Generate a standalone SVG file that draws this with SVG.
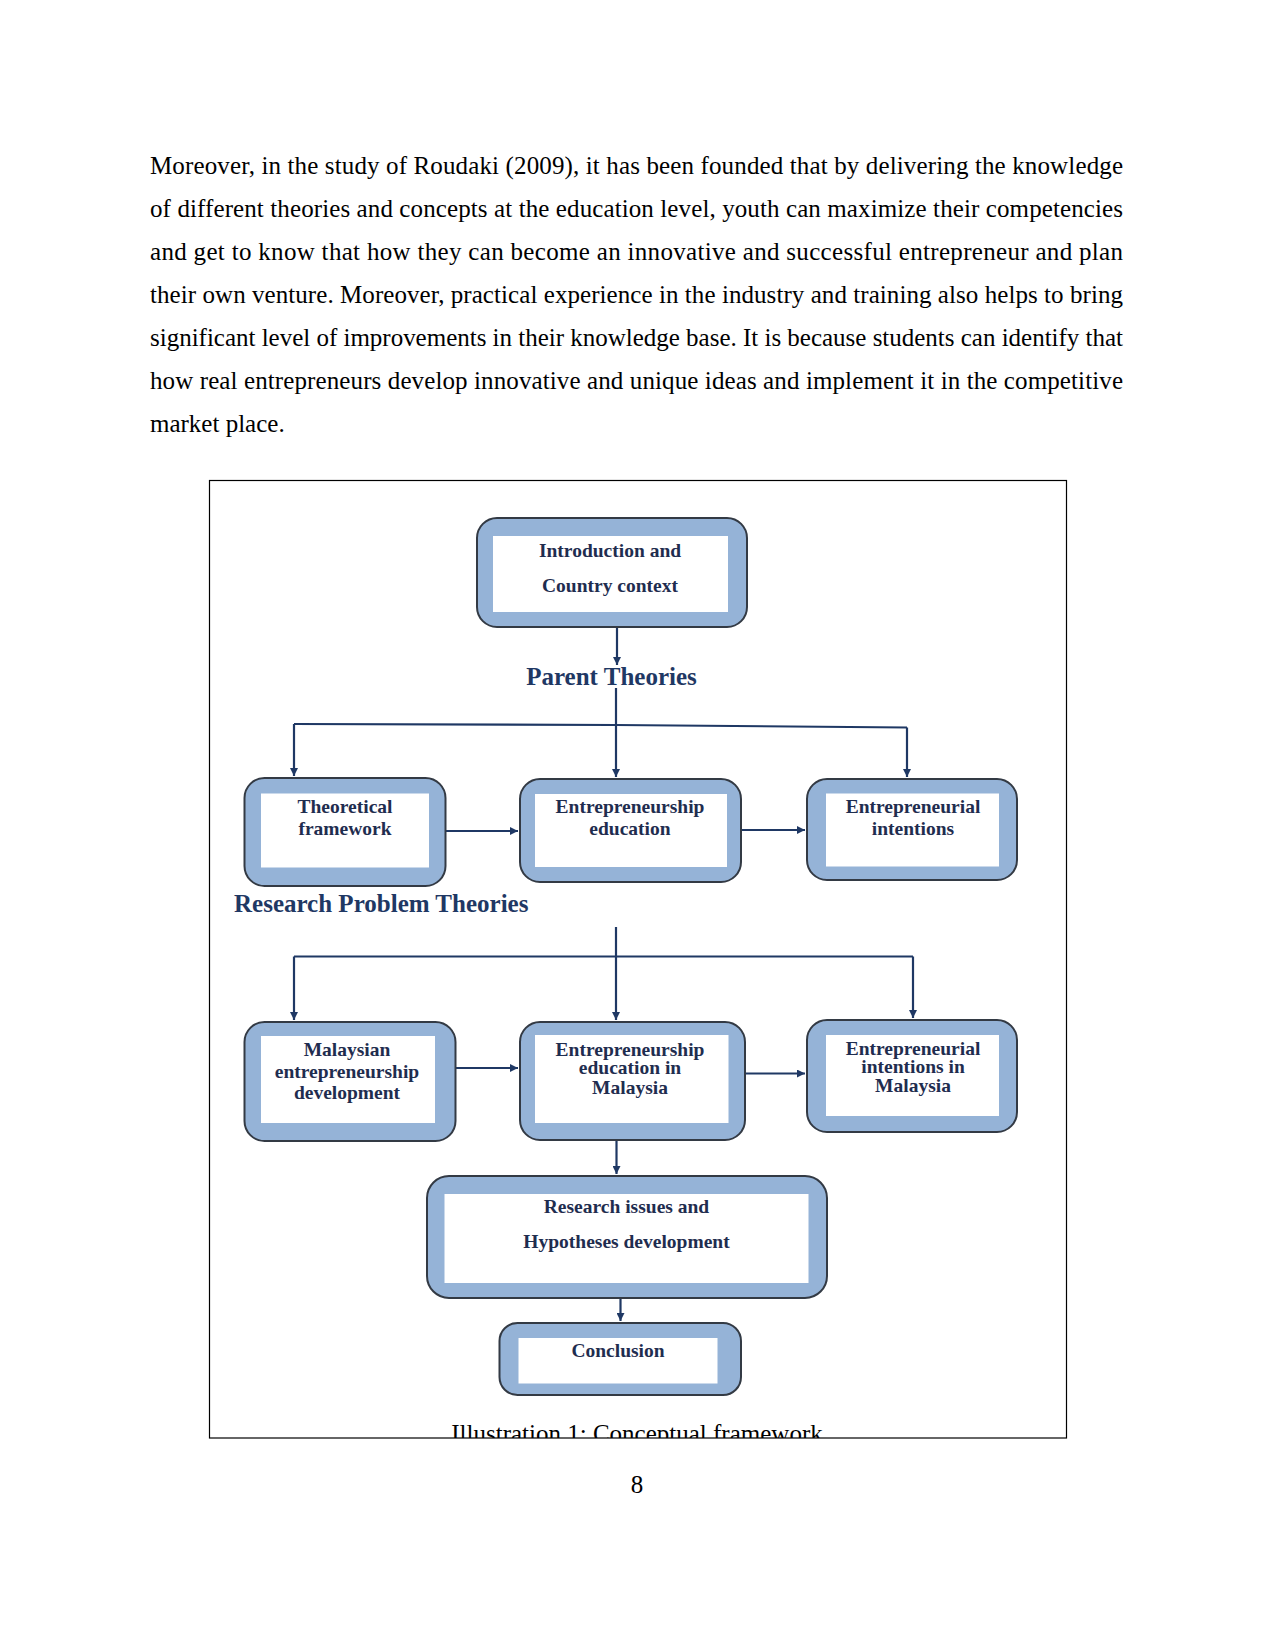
<svg xmlns="http://www.w3.org/2000/svg" width="1275" height="1651" viewBox="0 0 1275 1651">
<style>
.para{font-family:"Liberation Serif","Times New Roman",serif;font-size:25px;fill:#000}
.outer{fill:#95b3d7;stroke:#333a44;stroke-width:2}
.inner{fill:#ffffff}
.bt{font-family:"Liberation Serif","Times New Roman",serif;font-size:19.5px;font-weight:bold;fill:#1f2d4f;text-anchor:middle}
.lbl{font-family:"Liberation Serif","Times New Roman",serif;font-size:25px;font-weight:bold;fill:#1f3864}
.con{fill:none;stroke:#1f3864;stroke-width:2.2}
</style>
<defs>
<marker id="ah" viewBox="0 0 10 10" refX="10" refY="5" markerWidth="9" markerHeight="8" markerUnits="userSpaceOnUse" orient="auto">
<path d="M0,0 L10,5 L0,10 z" fill="#1f3864"/>
</marker>
<clipPath id="frameclip"><rect x="209.5" y="480.5" width="857" height="957.5"/></clipPath>
</defs>
<rect width="1275" height="1651" fill="#ffffff"/>
<g id="paragraph">
<text class="para" x="150" y="173.5" textLength="973" lengthAdjust="spacing">Moreover, in the study of Roudaki (2009), it has been founded that by delivering the knowledge</text>
<text class="para" x="150" y="216.5" textLength="973" lengthAdjust="spacing">of different theories and concepts at the education level, youth can maximize their competencies</text>
<text class="para" x="150" y="259.5" textLength="973" lengthAdjust="spacing">and get to know that how they can become an innovative and successful entrepreneur and plan</text>
<text class="para" x="150" y="302.5" textLength="973" lengthAdjust="spacing">their own venture. Moreover, practical experience in the industry and training also helps to bring</text>
<text class="para" x="150" y="345.5" textLength="973" lengthAdjust="spacing">significant level of improvements in their knowledge base. It is because students can identify that</text>
<text class="para" x="150" y="388.5" textLength="973" lengthAdjust="spacing">how real entrepreneurs develop innovative and unique ideas and implement it in the competitive</text>
<text class="para" x="150" y="431.5">market place.</text>
</g>
<rect id="frame" x="209.5" y="480.5" width="857" height="957.5" fill="none" stroke="#000" stroke-width="1.2"/>
<g id="connectors">
<path class="con" d="M617,627 L617,665" marker-end="url(#ah)"/>
<path class="con" d="M616,688 L616,777" marker-end="url(#ah)"/>
<path class="con" d="M294,724 L616,725 L907,727.5"/>
<path class="con" d="M294,724 L294,776" marker-end="url(#ah)"/>
<path class="con" d="M907,727.5 L907,777" marker-end="url(#ah)"/>
<path class="con" d="M446,831 L518,831" marker-end="url(#ah)"/>
<path class="con" d="M742,830 L805,830" marker-end="url(#ah)"/>
<path class="con" d="M616,927 L616,1020" marker-end="url(#ah)"/>
<path class="con" d="M294,956.5 L913,956.5"/>
<path class="con" d="M294,956.5 L294,1020" marker-end="url(#ah)"/>
<path class="con" d="M913,956.5 L913,1018" marker-end="url(#ah)"/>
<path class="con" d="M456,1068 L518,1068" marker-end="url(#ah)"/>
<path class="con" d="M745,1073.5 L805,1073.5" marker-end="url(#ah)"/>
<path class="con" d="M616.5,1140 L616.5,1174" marker-end="url(#ah)"/>
<path class="con" d="M620.5,1298.5 L620.5,1321" marker-end="url(#ah)"/>
</g>
<g id="lbl-parent"><text class="lbl" x="611.5" y="685" text-anchor="middle">Parent Theories</text></g>
<g id="lbl-research"><text class="lbl" x="234" y="911.5">Research Problem Theories</text></g>
<g id="n-intro">
<rect class="outer" x="477" y="518" width="270" height="109" rx="20"/>
<rect class="inner" x="493" y="536" width="235" height="76"/>
<text class="bt" x="610" y="557">Introduction and</text>
<text class="bt" x="610" y="592">Country context</text>
</g>
<g id="n-theoretical">
<rect class="outer" x="244.5" y="778" width="201" height="108" rx="20"/>
<rect class="inner" x="261" y="793.5" width="168" height="74"/>
<text class="bt" x="345" y="813">Theoretical</text>
<text class="bt" x="345" y="835">framework</text>
</g>
<g id="n-ee">
<rect class="outer" x="520" y="779" width="221" height="103" rx="20"/>
<rect class="inner" x="535" y="794" width="192" height="73"/>
<text class="bt" x="630" y="813">Entrepreneurship</text>
<text class="bt" x="630" y="835">education</text>
</g>
<g id="n-ei">
<rect class="outer" x="807" y="779" width="210" height="101" rx="20"/>
<rect class="inner" x="826" y="793.5" width="173" height="73"/>
<text class="bt" x="913" y="813">Entrepreneurial</text>
<text class="bt" x="913" y="835">intentions</text>
</g>
<g id="n-malaysian">
<rect class="outer" x="244.5" y="1022" width="211" height="119" rx="20"/>
<rect class="inner" x="261" y="1036" width="174" height="87"/>
<text class="bt" x="347" y="1056">Malaysian</text>
<text class="bt" x="347" y="1078">entrepreneurship</text>
<text class="bt" x="347" y="1099">development</text>
</g>
<g id="n-eem">
<rect class="outer" x="520" y="1022" width="225" height="118" rx="20"/>
<rect class="inner" x="535" y="1035" width="193.5" height="88"/>
<text class="bt" x="630" y="1056">Entrepreneurship</text>
<text class="bt" x="630" y="1074">education in</text>
<text class="bt" x="630" y="1094">Malaysia</text>
</g>
<g id="n-eim">
<rect class="outer" x="807" y="1020" width="210" height="112" rx="20"/>
<rect class="inner" x="826" y="1035" width="173" height="81"/>
<text class="bt" x="913" y="1055">Entrepreneurial</text>
<text class="bt" x="913" y="1073">intentions in</text>
<text class="bt" x="913" y="1092">Malaysia</text>
</g>
<g id="n-research">
<rect class="outer" x="427" y="1176" width="400" height="122" rx="22"/>
<rect class="inner" x="444.5" y="1194" width="364" height="89"/>
<text class="bt" x="626.5" y="1213">Research issues and</text>
<text class="bt" x="626.5" y="1248">Hypotheses development</text>
</g>
<g id="n-conclusion">
<rect class="outer" x="499.5" y="1323" width="241.5" height="72" rx="18"/>
<rect class="inner" x="518.5" y="1338" width="199" height="45.5"/>
<text class="bt" x="618" y="1357">Conclusion</text>
</g>
<g id="caption" clip-path="url(#frameclip)">
<text class="para" x="637" y="1441.5" text-anchor="middle">Illustration 1: Conceptual framework</text>
</g>
<text class="para" x="637" y="1493" text-anchor="middle">8</text>
</svg>
